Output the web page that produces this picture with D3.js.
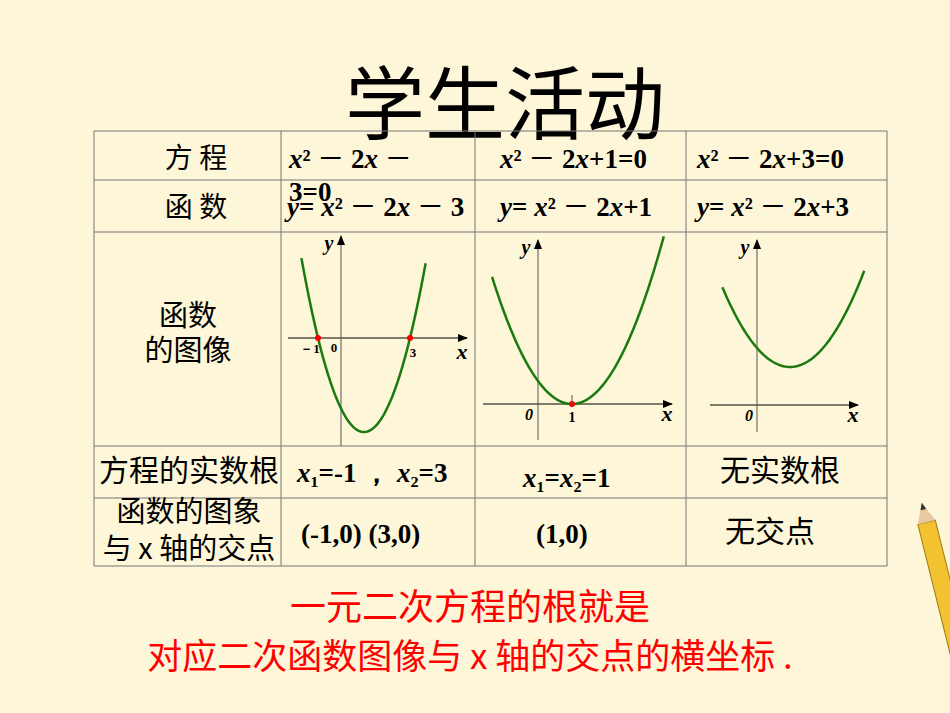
<!doctype html>
<html>
<head>
<meta charset="utf-8">
<style>
  body { margin:0; background:#fdf6d8; }
  svg { display:block; }
  .cn { font-family:"Noto Sans CJK SC"; }
  .m { font-family:"Liberation Serif"; font-weight:bold; }
</style>
<script src="https://d3js.org/d3.v7.min.js"></script>
</head>
<body>
<svg id="s" width="950" height="713"></svg>
<script>
// 表格内容
var colX = [94, 281, 475, 686, 887]
var rowY = [131, 180, 232, 446, 498, 566]
var equations = ["x² － 2x － 3=0", "x² － 2x+1=0", "x² － 2x+3=0"]
var functions = ["y= x² － 2x － 3", "y= x² － 2x+1", "y= x² － 2x+3"]
var roots = ["x₁=-1 ，  x₂=3", "x₁=x₂=1", "无实数根"]
var points = ["(-1,0)   (3,0)", "(1,0)", "无交点"]
// 抛物线 y = x^2 - 2x + c
var cValues = [-3, 1, 3]
var xDomains = [[-1.72, 3.72], [-1.35, 3.7], [-1.05, 3.25]]
var origins = [[341, 338], [538, 404], [757, 405]]
var xUnit = [23, 34, 33]
var yUnit = [23.5, 23, 19]
var rootMarks = [[-1, 3], [1], []]

var svg = d3.select("#s")
svg.append("rect").attr("width",950).attr("height",713).attr("fill","#fdf6d8")

svg.append("text").attr("class","cn").attr("x",505).attr("y",133)
   .attr("text-anchor","middle").attr("font-size",80).text("学生活动")

var g = svg.append("g").attr("stroke","#777").attr("stroke-width",1)
rowY.forEach(function(y){ g.append("line").attr("x1",colX[0]).attr("x2",colX[4]).attr("y1",y).attr("y2",y) })
colX.forEach(function(x){ g.append("line").attr("x1",x).attr("x2",x).attr("y1",rowY[0]).attr("y2",rowY[5]) })

function txt(x, y, s, cls, size, anchor) {
  return svg.append("text").attr("class",cls).attr("x",x).attr("y",y)
    .attr("font-size",size).attr("text-anchor",anchor||"middle").text(s)
}
// 数学式：x、y 斜体，"－" 用中文字体
function math(x, y, s, size, anchor) {
  var t = svg.append("text").attr("class","m").attr("x",x).attr("y",y)
    .attr("font-size",size).attr("text-anchor",anchor||"start")
  s.split(/([xy]|－)/).forEach(function(p){
    if (!p) return
    var sp = t.append("tspan").text(p)
    if (p=="x"||p=="y") sp.attr("font-style","italic")
    if (p=="－") sp.attr("font-family","Noto Sans CJK SC").attr("font-weight","normal")
  })
  return t
}
txt(196,168,"方 程","cn",28)
txt(196,217,"函 数","cn",28)
txt(188,326,"函数","cn",29)
txt(188,361,"的图像","cn",29)
txt(189,481,"方程的实数根","cn",30)
txt(189,522,"函数的图象","cn",29)
txt(189,559,"与 x 轴的交点","cn",29)

var eq0 = equations[0].split(" 3=")
math(289, 168, eq0[0], 27)
math(289, 201, "3=" + eq0[1], 27)
math(500, 168, equations[1], 27)
math(697, 168, equations[2], 27)
math(287, 216, functions[0], 27)
math(500, 216, functions[1], 27)
math(697, 216, functions[2], 27)

math(297, 482, roots[0], 27)
math(523, 487, roots[1], 27)
txt(780,481,roots[2],"cn",30)
math(301, 543, points[0], 27)
math(536, 543, points[1], 27)
txt(770,542,points[2],"cn",30)

var defs = svg.append("defs")
defs.append("marker").attr("id","ar").attr("viewBox","0 0 10 10").attr("refX",9).attr("refY",5)
  .attr("markerWidth",10).attr("markerHeight",10).attr("orient","auto")
  .append("path").attr("d","M0,1L10,5L0,9Z").attr("fill","#000")

var axisExt = [[288,467,446,236],[483,672,440,240],[710,858,432,240]]
cValues.forEach(function(c,i){
  var o = origins[i]
  var sx = d3.scaleLinear().domain([0,1]).range([o[0], o[0]+xUnit[i]])
  var sy = d3.scaleLinear().domain([0,1]).range([o[1], o[1]-yUnit[i]])
  var e = axisExt[i]
  svg.append("line").attr("x1",e[0]).attr("x2",e[1]).attr("y1",o[1]).attr("y2",o[1])
    .attr("stroke","#000").attr("marker-end","url(#ar)")
  svg.append("line").attr("x1",o[0]).attr("x2",o[0]).attr("y1",e[2]).attr("y2",e[3])
    .attr("stroke","#555").attr("marker-end","url(#ar)")
  var xs = d3.range(xDomains[i][0], xDomains[i][1]+0.001, 0.05)
  svg.append("path").datum(xs)
    .attr("d", d3.line().x(function(x){return sx(x)}).y(function(x){return sy(x*x-2*x+c)}))
    .attr("fill","none").attr("stroke","#1a7a10").attr("stroke-width",2.5)
  rootMarks[i].forEach(function(r){
    svg.append("circle").attr("cx",sx(r)).attr("cy",o[1]).attr("r",3).attr("fill","#f00")
  })
  txt(e[1]-5, o[1]+(i==0?21:17), "x", "m", 22).attr("font-style","italic")
  txt(o[0]-12, e[3]+14, "y", "m", 20).attr("font-style","italic")
})
txt(310,353,"－1","m",13)
txt(334,352,"0","m",13)
txt(413,357,"3","m",13)
txt(529,420,"0","m",16).attr("font-style","italic")
svg.append("line").attr("x1",572).attr("x2",572).attr("y1",395).attr("y2",404).attr("stroke","#555")
txt(572,422,"1","m",14)
txt(749,421,"0","m",16).attr("font-style","italic")

txt(470,620,"一元二次方程的根就是","cn",36).attr("fill","#f00")
txt(470,669,"对应二次函数图像与 x 轴的交点的横坐标 .","cn",35).attr("fill","#f00")

// 铅笔
var p = svg.append("g").attr("transform","translate(913,505) rotate(-14)")
p.append("rect").attr("x",0).attr("y",20).attr("width",18).attr("height",200).attr("fill","#f2c230").attr("stroke","#a07a10")
p.append("path").attr("d","M0,20L9,0L18,20Z").attr("fill","#e8c9a0")
p.append("path").attr("d","M6,7L9,0L12,7Z").attr("fill","#333")
</script>
</body>
</html>
